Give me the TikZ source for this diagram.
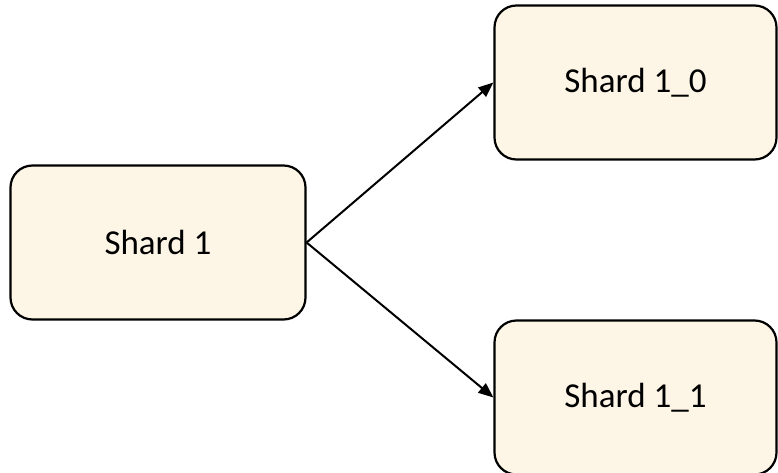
\documentclass[tikz,border=0pt]{standalone}
\usepackage{fontspec}
\setmainfont{Carlito}
\usetikzlibrary{arrows.meta}
\definecolor{shardfill}{HTML}{FDF5E6}
\tikzset{
  shardbox/.style={draw=black, line width=2.2pt, fill=shardfill, rounded corners=22pt,
    font=\fontsize{35}{40}\selectfont, inner sep=0pt},
  link/.style={line width=2pt, -{Triangle[length=15pt,width=12pt]}}
}
\begin{document}
\begin{tikzpicture}[x=1pt,y=-1pt]
\useasboundingbox (0,0) rectangle (778,473);
\clip (0,0) rectangle (778,473);
\node[shardbox, minimum width=295pt, minimum height=154pt] (s1) at (158,242.5) {Shard 1};
\node[shardbox, minimum width=282pt, minimum height=154pt] (s10) at (635.5,82.5) {Shard 1\_0};
\node[shardbox, minimum width=282pt, minimum height=154pt] (s11) at (635.5,397.5) {Shard 1\_1};
\draw[link] (s1.east) -- (s10.west);
\draw[link] (s1.east) -- (s11.west);
\end{tikzpicture}
\end{document}
